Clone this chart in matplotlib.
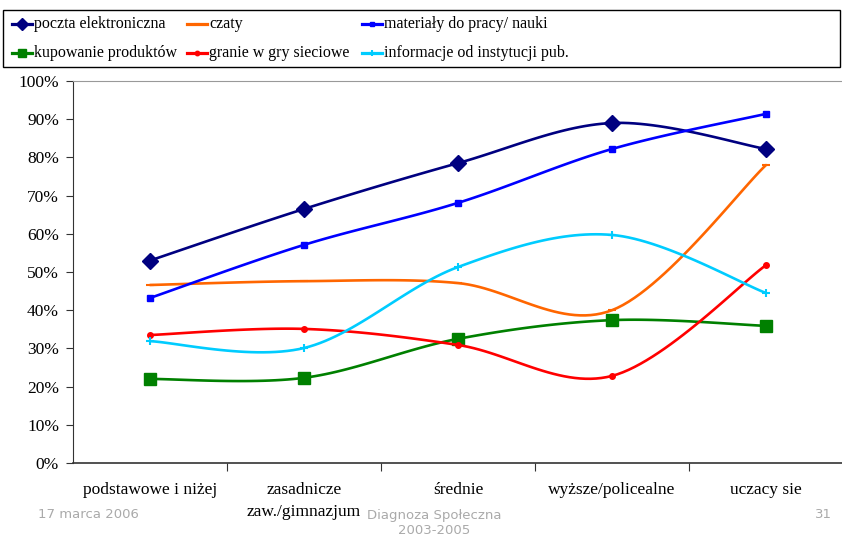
import numpy as np
import matplotlib
matplotlib.use('Agg')
import matplotlib.pyplot as plt
from matplotlib.lines import Line2D
from matplotlib.patches import Rectangle

# --- DATA ---
categories = ['podstawowe i niżej', 'zasadnicze\nzaw./gimnazjum', 'średnie',
              'wyższe/policealne', 'uczacy sie']
poczta = [53.0, 66.5, 78.5, 89.0, 82.2]
czaty = [46.6, 47.6, 47.1, 40.0, 78.0]
materialy = [43.2, 57.1, 68.1, 82.2, 91.4]
kupowanie = [22.0, 22.3, 32.5, 37.4, 35.9]
granie = [33.5, 35.1, 30.9, 22.8, 51.8]
informacje = [31.9, 30.1, 51.3, 59.7, 44.5]

series = [
    ('poczta elektroniczna', poczta, '#000080', 'D', 8),
    ('czaty', czaty, '#FF6600', '_', 6),
    ('materiały do pracy/ nauki', materialy, '#0000FF', 's', 4),
    ('kupowanie produktów', kupowanie, '#008000', 's', 8),
    ('granie w gry sieciowe', granie, '#FF0000', 'o', 4),
    ('informacje od instytucji pub.', informacje, '#00CCFF', '+', 6),
]

W, H = 842, 536
SERIF = 'Liberation Serif'
FS = 12.5
LEG_FS = 11.5


def smooth(x, y, n=30):
    """Excel-like smoothed line: cubic Bezier through the points."""
    x = np.asarray(x, float)
    y = np.asarray(y, float)
    px = np.concatenate([[x[0]], x, [x[-1]]])
    py = np.concatenate([[y[0]], y, [y[-1]]])
    xs, ys = [], []
    t = np.linspace(0, 1, n)
    for i in range(1, len(px) - 2):
        p0 = np.array([px[i], py[i]])
        p3 = np.array([px[i + 1], py[i + 1]])
        p1 = p0 + (np.array([px[i + 1], py[i + 1]]) - np.array([px[i - 1], py[i - 1]])) / 6
        p2 = p3 - (np.array([px[i + 2], py[i + 2]]) - np.array([px[i], py[i]])) / 6
        b = (((1 - t) ** 3)[:, None] * p0 + (3 * (1 - t) ** 2 * t)[:, None] * p1
             + (3 * (1 - t) * t ** 2)[:, None] * p2 + (t ** 3)[:, None] * p3)
        xs.extend(b[:, 0])
        ys.extend(b[:, 1])
    return np.array(xs), np.array(ys)


fig = plt.figure(figsize=(W / 100, H / 100), dpi=100)
fig.patch.set_facecolor('white')

# plot area in pixels: left 73, right 842, top 81, bottom 463
ax = fig.add_axes([73 / W, 1 - 463 / H, (842 - 73) / W, (463 - 81) / H])
x = np.arange(len(categories))
for name, vals, color, marker, ms in series:
    sx, sy = smooth(x, vals)
    ax.plot(sx, sy, color=color, lw=1.9, solid_capstyle='round')
    ax.plot(x, vals, linestyle='none', marker=marker, color=color, ms=ms,
            mew=1.5 if marker in '+_' else 1, mec=color)

# category spacing is 154 px, first category 77 px from the left axis
ax.set_xlim(-0.5, -0.5 + 769 / 154)
ax.set_ylim(0, 100)
ax.set_yticks(np.arange(0, 101, 10))
ax.set_yticklabels([f'{v}%' for v in range(0, 101, 10)], family=SERIF, fontsize=FS)
ax.set_xticks(np.arange(0.5, 4, 1))
ax.set_xticklabels([])
ax.set_xticks(x, minor=True)
ax.set_xticklabels(categories, minor=True, family=SERIF, fontsize=FS, linespacing=1.45)
ax.tick_params(axis='x', which='minor', length=0, pad=14)
ax.tick_params(axis='x', which='major', length=6, direction='out', color='#333333')
ax.tick_params(axis='y', length=5, direction='out', pad=5, color='#333333')
ax.spines['right'].set_visible(False)
ax.spines['top'].set_color('#999999')
ax.spines['left'].set_color('#333333')
ax.spines['bottom'].set_color('#333333')
ax.spines['bottom'].set_linewidth(1.2)

# legend box drawn by hand to keep Excel's column spacing
fig.add_artist(Rectangle((3 / W, 1 - 67 / H), 837 / W, 57 / H, transform=fig.transFigure,
                         fill=False, ec='black', lw=1))
cols = [12, 187, 362]
rows = [24, 53]
for i, (name, vals, color, marker, ms) in enumerate(series):
    cx = cols[i % 3]
    ry = 1 - rows[i // 3] / H
    fig.add_artist(Line2D([cx / W, (cx + 20) / W], [ry, ry], transform=fig.transFigure,
                          color=color, lw=2.3))
    fig.add_artist(Line2D([(cx + 10) / W], [ry], transform=fig.transFigure, color=color,
                          marker=marker, ms=ms * 0.8, mew=1.5 if marker in '+_' else 1, mec=color))
    fig.text((cx + 22) / W, ry, name, family=SERIF, fontsize=LEG_FS, va='center', ha='left')

# footer
fig.text(38 / W, 1 - 515 / H, '17 marca 2006', color='#aaaaaa', fontsize=9.5,
         family='DejaVu Sans', va='center')
fig.text(434 / W, 1 - 515 / H, 'Diagnoza Społeczna', color='#aaaaaa', fontsize=9.5,
         family='DejaVu Sans', va='center', ha='center')
fig.text(434 / W, 1 - 530 / H, '2003-2005', color='#aaaaaa', fontsize=9.5,
         family='DejaVu Sans', va='center', ha='center')
fig.text(832 / W, 1 - 515 / H, '31', color='#aaaaaa', fontsize=9.5,
         family='DejaVu Sans', va='center', ha='right')

fig.savefig('out.png', dpi=100)
